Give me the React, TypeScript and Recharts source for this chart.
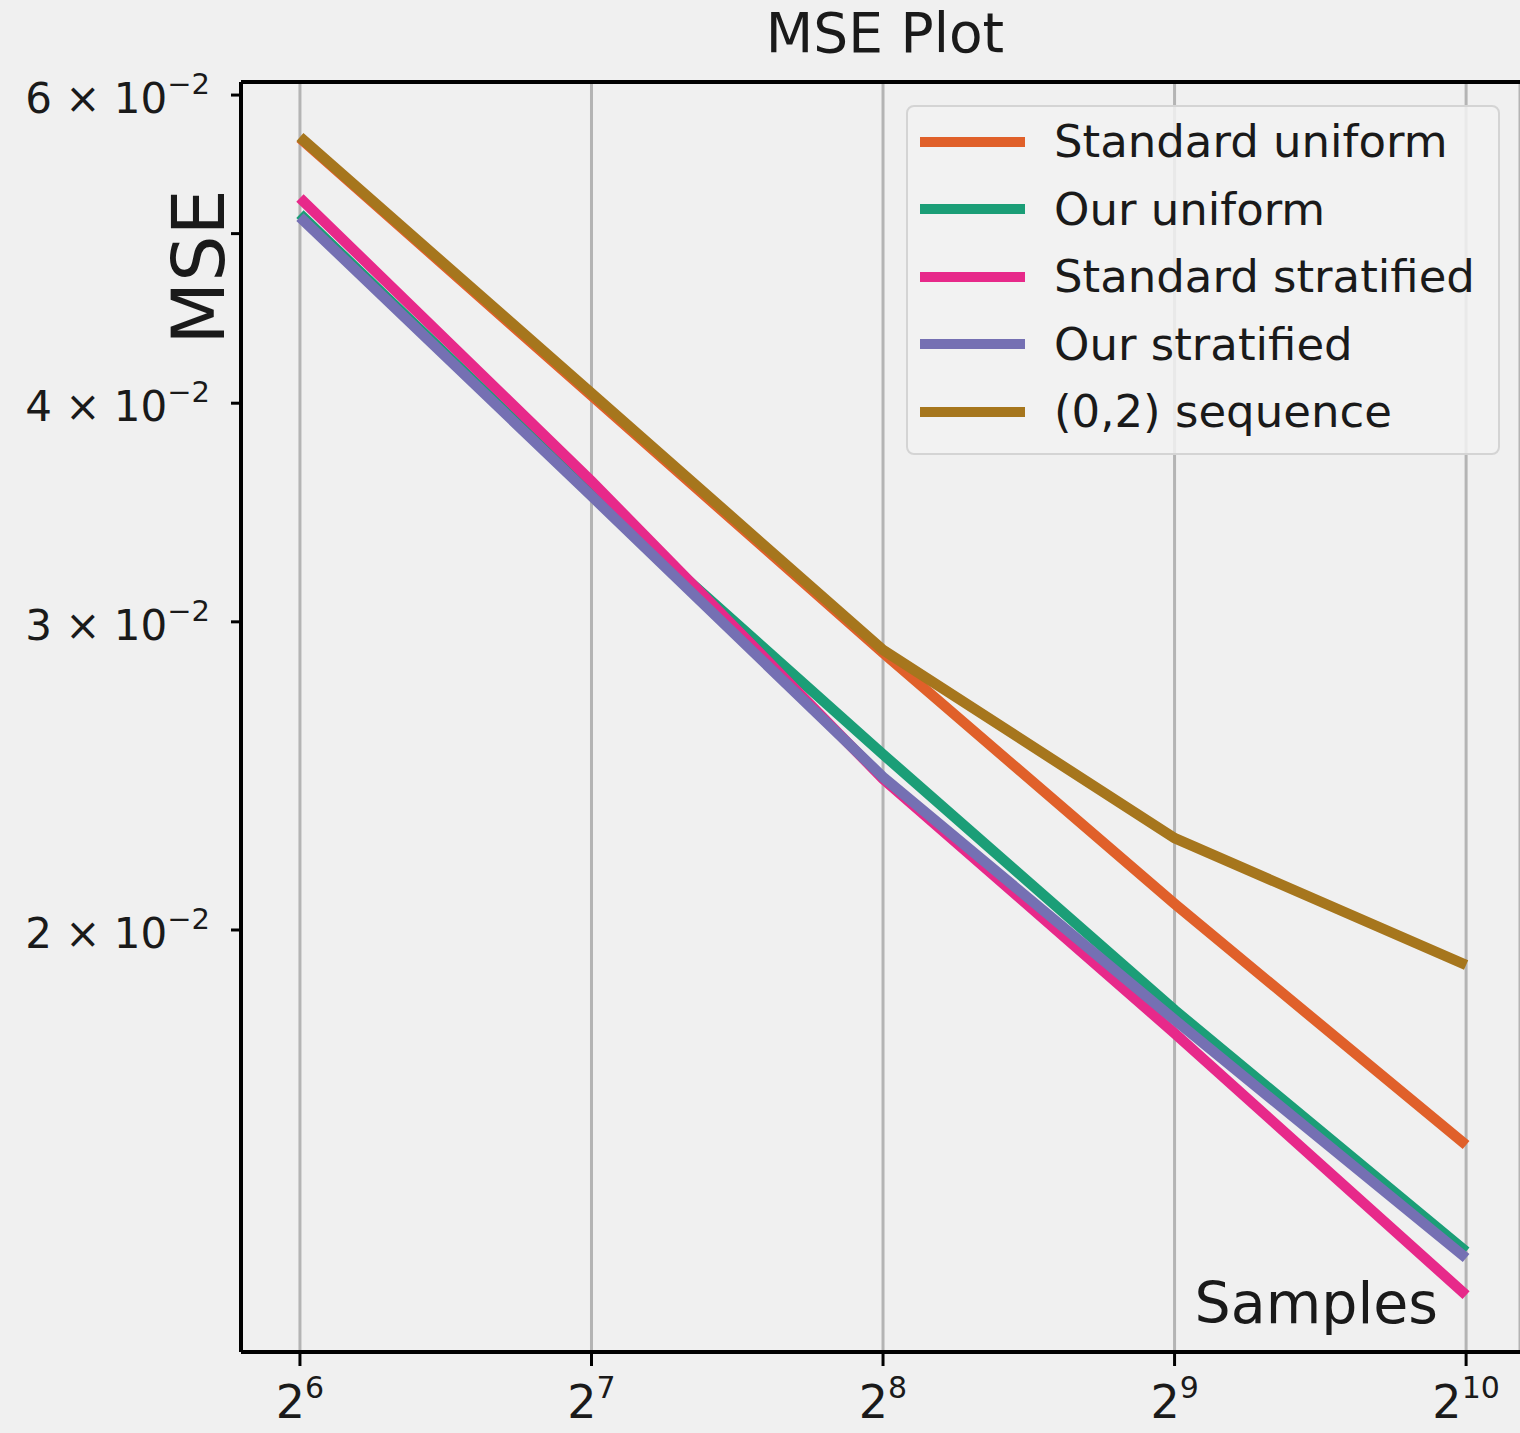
import React from "react";
import {
  LineChart, Line, XAxis, YAxis, CartesianGrid, Legend, ReferenceLine,
} from "recharts";

// sample counts (x) and MSE per method
const samples = [64, 128, 256, 512, 1024];
const standardUniform = [0.0567, 0.0404, 0.0288, 0.0207, 0.01507];
const ourUniform = [0.0513, 0.0355, 0.0252, 0.0180, 0.0131];
const standardStratified = [0.0524, 0.0361, 0.0244, 0.01746, 0.01237];
const ourStratified = [0.0511, 0.0354, 0.02446, 0.01777, 0.01299];
const sequence02 = [0.05678, 0.04053, 0.02891, 0.02257, 0.0191];

const xTicks = [64, 128, 256, 512, 1024];
const yTicks = [0.02, 0.03, 0.04, 0.05, 0.06];
const yLabelled = [0.02, 0.03, 0.04, 0.06];

const series = [
  { key: "standardUniform", name: "Standard uniform", color: "#e0602a", values: standardUniform },
  { key: "ourUniform", name: "Our uniform", color: "#1b9e77", values: ourUniform },
  { key: "standardStratified", name: "Standard stratified", color: "#e7298a", values: standardStratified },
  { key: "ourStratified", name: "Our stratified", color: "#7570b3", values: ourStratified },
  { key: "sequence02", name: "(0,2) sequence", color: "#a6761d", values: sequence02 },
];

const data = samples.map((n, i) => {
  const row: Record<string, number> = { n };
  series.forEach((s) => { row[s.key] = s.values[i]; });
  return row;
});

const FONT = "'DejaVu Sans', sans-serif";
const INK = "#1a1a1a";

function XTick({ x, y, payload }: any) {
  const exp = Math.round(Math.log2(payload.value));
  return (
    <text x={x} y={y + 50} textAnchor="middle" fontFamily={FONT} fill={INK}>
      <tspan fontSize={46}>2</tspan>
      <tspan fontSize={30} dy={-20}>{exp}</tspan>
    </text>
  );
}

function YTick({ x, y, payload }: any) {
  const v = payload.value;
  if (!yLabelled.some((t) => Math.abs(t - v) < 1e-9)) return null;
  const m = Math.round(v * 100);
  return (
    <text x={x} y={y + 18} textAnchor="end" fontFamily={FONT} fill={INK}>
      <tspan fontSize={42}>{`${m} × 10`}</tspan>
      <tspan fontSize={29} dy={-19}>−2</tspan>
    </text>
  );
}

function LegendBox({ payload }: any) {
  // keep the plotting order, not the alphabetical one
  const items = series
    .map((s) => (payload || []).find((p: any) => p.value === s.name))
    .filter(Boolean);
  return (
    <div style={{
      width: 594,
      boxSizing: "border-box",
      background: "rgba(242,242,242,0.85)",
      border: "2px solid #d4d4d4",
      borderRadius: 8,
      padding: "1px 0 7px 12px",
      fontFamily: FONT,
    }}>
      {items.map((p: any) => (
        <div key={p.value} style={{ display: "flex", alignItems: "center", height: 67.5 }}>
          <div style={{ width: 105, height: 10, background: p.color, marginRight: 29 }} />
          <span style={{ fontSize: 45, color: INK, lineHeight: "67.5px" }}>{p.value}</span>
        </div>
      ))}
    </div>
  );
}

export default function App() {
  return (
    <div style={{ position: "absolute", left: 0, top: 0, width: 1520, height: 1433, background: "#f0f0f0", overflow: "hidden" }}>
      <div style={{
        position: "absolute", left: 885, top: 6, transform: "translateX(-50%)",
        fontFamily: FONT, fontSize: 55, lineHeight: "55px", color: INK, whiteSpace: "nowrap",
      }}>
        MSE Plot
      </div>
      <LineChart width={1520} height={1433} data={data} margin={{ top: 82, right: 0, bottom: 0, left: 0 }}>
        <CartesianGrid horizontal={false} stroke="#b4b4b4" strokeWidth={3} />
        <XAxis
          dataKey="n"
          type="number"
          scale="log"
          domain={[55.63, 1164]}
          allowDataOverflow
          ticks={xTicks}
          height={81}
          axisLine={{ stroke: "#000", strokeWidth: 4 }}
          tickLine={{ stroke: "#000", strokeWidth: 3 }}
          tickSize={14}
          tick={<XTick />}
          label={{
            content: (props: any) => {
              const vb = props.viewBox || { x: 241, y: 1352, width: 1279 };
              return (
                <text x={vb.x + vb.width - 82} y={vb.y - 29} textAnchor="end" fontFamily={FONT} fontSize={57} fill={INK}>
                  Samples
                </text>
              );
            },
          }}
        />
        <YAxis
          type="number"
          scale="log"
          domain={[0.011478, 0.06104]}
          allowDataOverflow
          ticks={yTicks}
          width={241}
          axisLine={{ stroke: "#000", strokeWidth: 4 }}
          tickLine={{ stroke: "#000", strokeWidth: 3 }}
          tickSize={10}
          tickMargin={21}
          tick={<YTick />}
          label={{
            content: (props: any) => {
              const vb = props.viewBox || { x: 0, y: 82, width: 241 };
              const cx = vb.x + vb.width - 43;
              const cy = vb.y + 185;
              return (
                <text x={cx} y={cy} transform={`rotate(-90, ${cx}, ${cy})`} textAnchor="middle" dominantBaseline="central" fontFamily={FONT} fontSize={73} fill={INK}>
                  MSE
                </text>
              );
            },
          }}
        />
        <ReferenceLine y={0.06104} stroke="#000" strokeWidth={4} ifOverflow="visible" />
        <Legend
          layout="vertical"
          align="center"
          verticalAlign="middle"
          content={<LegendBox />}
          wrapperStyle={{ left: 906, top: 105, width: 594 }}
        />
        {series.map((s) => (
          <Line
            key={s.key}
            type="linear"
            dataKey={s.key}
            name={s.name}
            stroke={s.color}
            strokeWidth={10.5}
            dot={false}
            isAnimationActive={false}
          />
        ))}
      </LineChart>
    </div>
  );
}
